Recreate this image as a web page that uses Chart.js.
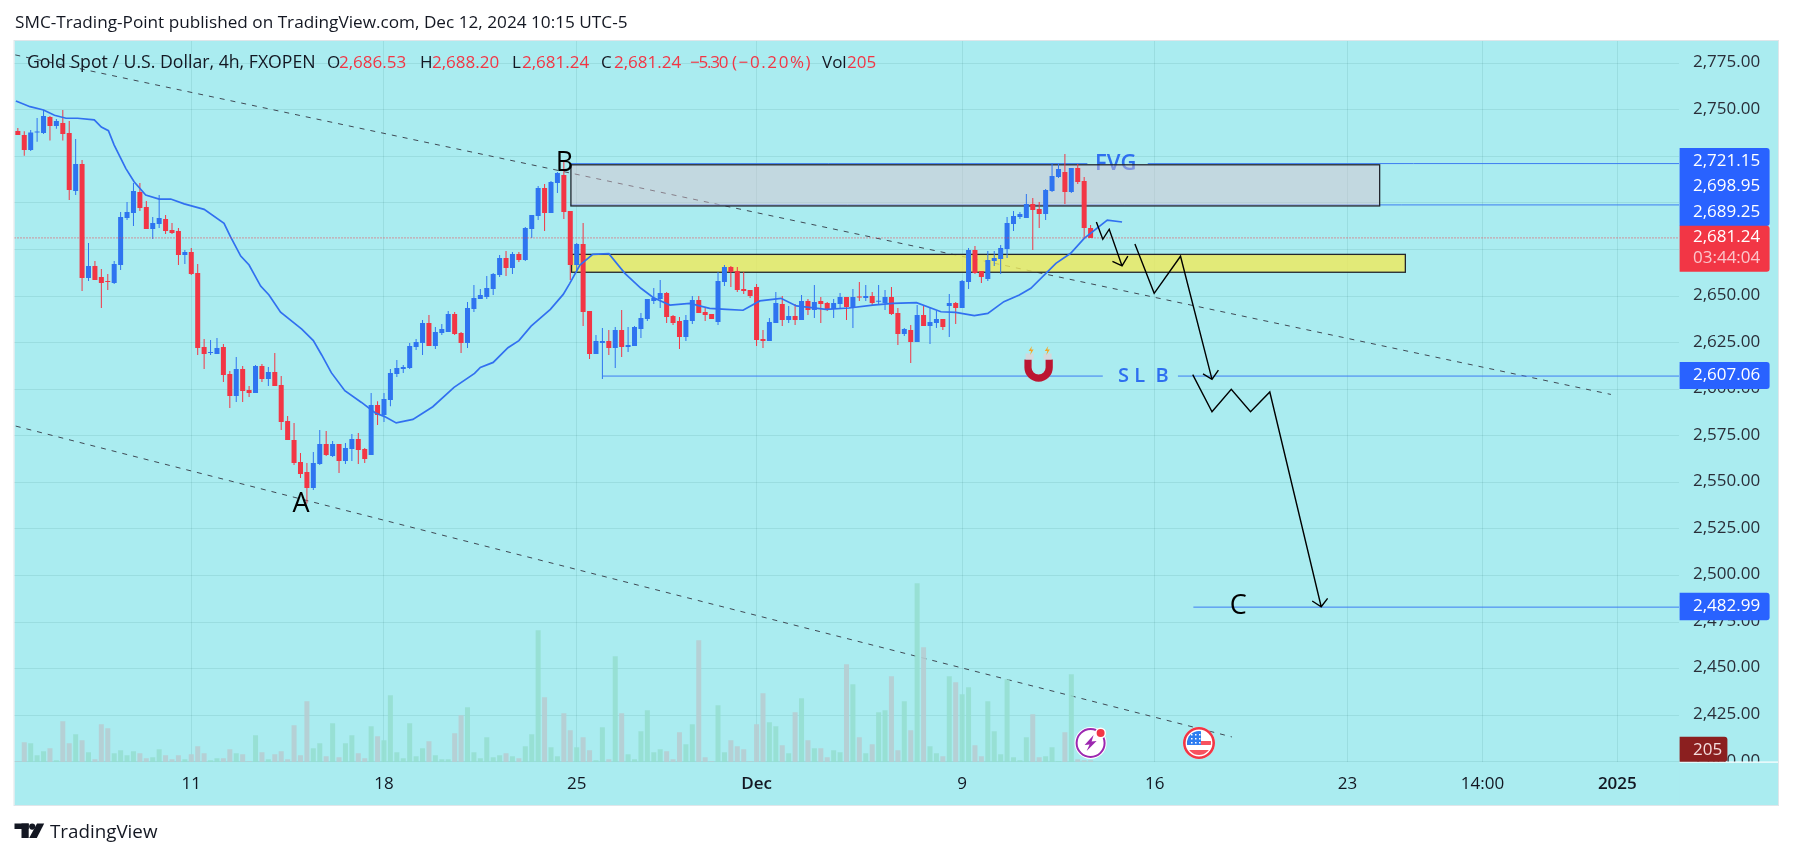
<!DOCTYPE html>
<html><head><meta charset="utf-8">
<script src="https://cdn.jsdelivr.net/npm/chart.js@4"></script>
<style>html,body{margin:0;padding:0;background:#fff}canvas{display:block}</style>
</head><body><canvas id="c" width="1793" height="858"></canvas>
<script>
// ---- candles, in bar order (bar number = position + 1) ----
const opens=[2738.7,2736.5,2728.5,2737.8,2737.6,2746.2,2741.3,2742.9,2737.6,2706.4,2720.9,2659.7,2666.2,2660.2,2657.9,2657.0,2666.7,2691.9,2694.6,2705.9,2697.8,2686.0,2688.7,2691.4,2685.5,2684.9,2672.1,2673.7,2662.4,2622.7,2619.4,2618.9,2622.7,2608.2,2596.3,2610.8,2599.6,2598.0,2612.4,2605.5,2609.2,2602.2,2582.9,2572.7,2560.9,
2555.5,2547.0,2559.8,2570.6,2564.1,2570.6,2561.4,2567.9,2573.3,2567.9,2564.7,2591.5,2586.1,2594.2,2608.2,2610.8,2611.4,2622.7,2624.8,2635.6,2623.2,2630.2,2630.7,2640.4,2630.2,2624.8,2643.1,2648.5,2649.5,2653.8,2661.3,2670.5,2665.1,2672.6,2669.4,2686.0,2693.0,2708.0,2694.6,2710.7,2715.0,2695.7,2666.7,2678.0,
2642.0,2618.9,2624.8,2625.9,2622.1,2631.8,2622.7,2623.2,2632.3,2637.7,2647.4,2648.4,2651.7,2639.3,2636.6,2628.0,2636.6,2647.9,2641.5,2640.4,2636.1,2657.6,2665.6,2663.5,2653.8,2653.3,2654.9,2627.0,2625.9,2635.6,2645.8,2637.2,2639.3,2637.2,2647.4,2642.5,2647.4,2646.3,2643.1,2645.8,
2649.5,2644.1,2649.5,2649.0,2650.0,2647.0,2646.3,2649.5,2640.9,2629.6,2631.8,2625.3,2639.8,2633.9,2635.6,2637.7,2644.7,2646.3,2643.6,2657.6,2674.7,2663.5,2659.2,2668.8,2669.9,2675.3,2688.7,2692.5,2691.9,2699.4,2696.8,2694.1,2706.4,2713.9,2716.6,2705.9,2718.8,2711.8,2686.53];
const highs=[2740.3,2738.5,2739.2,2745.6,2749.9,2746.7,2745.1,2749.9,2744.0,2734.4,2723.1,2678.5,2668.8,2664.5,2661.9,2668.8,2695.2,2700.5,2710.7,2710.7,2701.1,2692.5,2704.3,2693.5,2689.2,2686.6,2674.8,2675.8,2667.2,2627.0,2626.4,2627.5,2624.3,2609.8,2617.3,2612.4,2601.7,2613.0,2613.5,2611.9,2619.4,2607.1,2585.6,2581.8,2565.7,
2560.4,2566.3,2578.1,2577.6,2572.2,2570.6,2571.1,2575.9,2576.5,2568.4,2598.0,2593.6,2598.0,2610.8,2615.7,2613.0,2624.8,2627.0,2637.2,2639.8,2633.4,2635.0,2642.0,2641.5,2630.7,2646.8,2656.0,2653.8,2660.8,2662.4,2672.1,2674.2,2673.7,2673.7,2687.1,2693.5,2709.1,2710.2,2711.8,2716.6,2722.0,2695.7,2678.5,2689.2,
2642.0,2629.1,2632.9,2631.8,2633.4,2642.5,2633.4,2633.9,2640.9,2648.4,2654.3,2658.6,2652.2,2639.8,2638.8,2639.8,2650.0,2650.0,2643.6,2640.4,2662.9,2666.7,2666.2,2665.6,2662.9,2653.3,2656.5,2631.8,2638.2,2652.2,2650.0,2644.7,2645.8,2650.6,2648.4,2655.9,2649.5,2646.8,2648.4,2651.7,
2649.5,2653.8,2657.6,2655.9,2652.2,2655.9,2653.3,2654.9,2643.6,2632.9,2634.5,2645.2,2645.2,2644.1,2642.0,2637.7,2651.1,2646.8,2658.6,2675.8,2676.9,2663.5,2674.2,2674.2,2677.4,2692.5,2695.7,2695.2,2704.8,2702.7,2700.5,2707.5,2721.5,2720.9,2726.3,2718.8,2720.9,2714.0,2688.20];
const lows=[2736.5,2725.4,2727.9,2732.9,2737.0,2733.5,2739.9,2733.5,2701.6,2704.3,2652.7,2658.1,2658.6,2643.6,2653.3,2656.5,2664.0,2690.9,2687.6,2695.7,2686.0,2680.7,2686.6,2683.3,2683.3,2666.7,2667.2,2661.3,2618.4,2610.8,2618.4,2618.9,2603.9,2589.9,2593.1,2593.1,2595.8,2598.0,2603.9,2601.7,2601.7,2578.1,2572.7,2559.3,2552.3,
2538.7,2545.9,2559.3,2564.1,2563.6,2555.0,2559.8,2561.4,2559.8,2560.4,2564.7,2580.8,2582.4,2590.9,2606.5,2608.7,2610.8,2621.1,2618.4,2623.2,2621.6,2629.1,2630.7,2629.1,2619.5,2622.1,2641.5,2648.5,2648.5,2650.6,2660.2,2660.8,2661.9,2668.3,2668.8,2681.2,2690.9,2684.9,2694.6,2705.4,2691.4,2658.6,2664.0,2633.9,
2616.2,2618.9,2605.5,2618.4,2611.4,2617.3,2620.0,2623.2,2627.5,2636.6,2645.8,2643.6,2635.6,2634.5,2621.6,2625.9,2635.0,2640.9,2636.6,2637.7,2634.5,2655.4,2654.9,2652.2,2651.1,2649.0,2623.2,2622.1,2625.9,2635.6,2633.9,2635.6,2634.5,2637.2,2639.8,2638.2,2635.6,2642.0,2638.2,2643.6,
2637.2,2632.9,2647.4,2647.4,2645.2,2645.2,2642.5,2639.8,2623.7,2628.6,2614.1,2625.3,2633.9,2624.3,2632.9,2631.8,2628.0,2635.0,2643.6,2653.8,2661.8,2657.0,2658.1,2666.2,2661.8,2670.5,2684.9,2691.4,2691.9,2674.7,2686.6,2690.9,2705.9,2713.4,2699.4,2705.4,2710.2,2681.2,2681.24];
const closes=[2736.5,2728.5,2737.9,2738.1,2746.7,2741.3,2744.0,2737.0,2707.0,2720.9,2659.7,2666.2,2658.6,2657.0,2657.6,2667.2,2692.5,2695.2,2706.4,2697.3,2686.0,2689.2,2691.9,2684.9,2683.9,2672.1,2673.7,2661.9,2622.1,2618.9,2619.8,2622.1,2607.6,2596.3,2610.8,2599.0,2598.0,2612.4,2605.5,2609.2,2601.7,2582.4,2572.7,2560.4,2554.5,
2547.0,2560.4,2570.6,2564.7,2570.6,2561.4,2568.4,2573.3,2567.4,2562.5,2591.5,2586.1,2594.7,2608.7,2611.4,2611.9,2623.2,2625.4,2635.6,2623.2,2630.7,2632.3,2640.4,2629.6,2624.8,2643.6,2649.0,2650.6,2654.4,2661.9,2670.5,2665.1,2672.6,2669.4,2686.6,2693.5,2708.0,2694.6,2711.3,2716.1,2695.2,2666.7,2678.0,2641.5,
2618.9,2625.9,2625.9,2622.1,2631.8,2622.7,2623.7,2633.4,2638.2,2648.4,2649.0,2651.7,2638.8,2635.6,2628.0,2637.2,2647.9,2640.9,2639.8,2637.7,2658.1,2665.6,2662.9,2653.3,2652.7,2650.0,2626.4,2625.9,2636.1,2646.3,2637.2,2639.3,2637.2,2647.4,2642.5,2646.8,2645.8,2643.1,2646.3,2649.5,
2644.1,2649.5,2649.2,2650.0,2646.3,2647.4,2649.5,2640.4,2629.6,2632.3,2625.3,2639.8,2633.9,2636.1,2637.7,2633.4,2646.3,2643.6,2658.1,2674.7,2662.4,2660.3,2669.4,2670.5,2675.8,2689.2,2693.0,2694.1,2699.4,2696.2,2694.1,2707.0,2714.5,2718.2,2705.9,2718.8,2711.3,2686.6,2681.24];
const volumes=[80,2360,2240,800,1280,1640,200,4880,2240,3320,2600,1160,320,4520,4040,1040,1400,800,1280,1040,440,560,1520,800,320,800,320,920,1880,1040,200,440,440,1520,1040,920,80,3200,1160,320,920,1280,320,4400,800,7280,1640,2240,680,4640,560,2240,3200,1040,440,4280,3080,2600,8000,1160,440,4640,680,1640,2480,800,320,320,3440,5600,6560,1160,440,2960,560,800,1040,680,440,1880,3320,15800,7760,1760,680,5840,3800,1760,2960,1400,200,4160,320,12680,5840,920,320,3680,6200,1160,1520,1280,320,3560,2120,4520,14600,560,80,6800,1160,2600,1880,1520,80,4520,8240,4760,4280,2000,1040,5960,7640,2600,1640,1640,560,1400,1160,11720,9320,2960,1040,2120,5960,6200,10280,1400,7280,3800,21440,13760,1880,1040,680,10280,9560,8120,8960,2000,680,7280,3680,920,9920,560,200,2960,5720,560,680,1760,80,3560,10520,320,200,205];
// ---- moving average vertices (bar position, price) ----
const maBars=[0.7,2.9,5.0,6.7,8.5,10.3,12.9,14.0,15.1,16.0,17.8,19.1,20.9,23.0,24.8,26.9,30.0,33.1,34.1,35.7,37.0,38.8,40.1,41.9,45.2,47.0,48.3,49.8,51.9,54.5,56.6,58.1,59.9,62.5,65.6,68.9,72.1,73.0,75.0,77.3,79.0,80.9,83.9,85.9,86.9,88.5,90.5,93.0,95.5,98.0,99.9,102.5,105.6,108.7,111.3,113.9,116.5,119.8,122.2,126.8,130.4,134.1,137.2,140.9,144.7,147.0,149.9,152.0,154.5,156.9,158.7,162.6,164.9,167.0,170.6,172.9];
const maValues=[2754.8,2751.7,2749.9,2747.1,2745.5,2745.5,2744.6,2740.8,2738.8,2731.1,2718.6,2711.4,2704.3,2702.1,2702.1,2699.5,2696.6,2689.1,2681.9,2671.5,2666.7,2655.4,2650.6,2641.4,2632.3,2626.1,2618.4,2608.9,2599.2,2592.9,2587.4,2585.3,2581.9,2583.8,2590.6,2601.0,2608.5,2611.7,2614.4,2622.3,2626.1,2633.9,2642.9,2650.9,2656.7,2666.7,2672.4,2672.8,2662.2,2654.2,2649.3,2645.2,2646.1,2643.4,2642.9,2642.4,2647.4,2648.8,2644.7,2642.9,2643.6,2645.2,2646.1,2646.5,2641.6,2641.3,2639.5,2640.7,2647.0,2650.6,2654.2,2667.6,2673.0,2681.0,2690.8,2689.8];
// ---- axes ----
const priceTicks=[2775,2750,2725,2700,2675,2650,2625,2600,2575,2550,2525,2500,2475,2450,2425,2400];
const timeBars=[28,58,88,116,148,178,208,229,250];
const timeLabels=['11','18','25','Dec','9','16','23','14:00','2025'];
const viewBars=[0.48,259.6];
const viewPrice=[2399.84,2786.97];
// ---- drawings ----
const upperTrendBars=[0.6,249.0],upperTrendPrices=[2779.5,2597.2];
const lowerTrendBars=[0.67,190.0],lowerTrendPrices=[2580.2,2413.3];
const lastPrice=2681.24;
const level1Bars=[87,167.5,null,176.9,259.6],level1Prices=[2721.15,2721.15,null,2721.15,2721.15];
const level2Bars=[87,259.6],level2Prices=[2698.95,2698.95];
const slBars=[92,169.9,null,181.6,259.6],slPrices=[2607.06,2607.06,null,2607.06,2607.06];
const targetBars=[184,259.6],targetPrices=[2482.99,2482.99];
const fvgBoxBars=[87.1,213.0],fvgBoxPrices=[2720.5,2698.4];
const yellowBoxBars=[87.2,217.0],yellowBoxPrices=[2672.4,2662.8];
const pathBars=[168.9,169.9,170.9,172.9,null,171.4,172.9,173.8,null,174.9,177.9,182.0,186.9,null,185.5,186.9,187.9,null,183.9,186.9,189.9,192.9,195.9,203.9,null,202.5,203.9,204.9];
const pathPrices=[2689.8,2680.5,2685.9,2666.2,null,2668.7,2666.2,2671.5,null,2678.0,2651.5,2671.4,2605.3,null,2608.2,2605.3,2610.3,null,2607.8,2587.9,2600.0,2587.9,2598.5,2483.2,null,2486.3,2483.2,2487.7];
const waveLabels=['A','B','C'],waveBars=[45.1,86.1,191],wavePrices=[2538.0,2721.3,2483.6];
const fvgText={t:'FVG',bar:171.9,price:2721.15},slText={t:'S L  B',bar:176.2,price:2607.06};
const headline='SMC-Trading-Point published on TradingView.com, Dec 12, 2024 10:15 UTC-5';
const legendName='Gold Spot / U.S. Dollar, 4h, FXOPEN';

const BG='#aaecf0',UP='#2e74f0',DOWN='#f23645',LEVEL='#3d7df2',INK='#131722',FONT='"Open Sans"';
const barNo=opens.map((_,i)=>i+1);
const colors=opens.map((o,i)=>closes[i]>=o?UP:DOWN);
const zip=(xs,ys)=>xs.map((x,i)=>({x:x,y:ys[i]}));
const line=(label,xs,ys,color,width,order,extra)=>Object.assign({type:'line',label,data:zip(xs,ys),borderColor:color,borderWidth:width,pointRadius:0,tension:0,spanGaps:false,order,yAxisID:'y'},extra||{});

const artwork={
 id:'artwork',
 beforeDraw(ch){const c=ch.ctx;c.save();c.fillStyle='#fff';c.fillRect(0,0,1793,858);c.fillStyle=BG;c.fillRect(14.5,41,1763.5,764);c.strokeStyle='#dfe6ea';c.lineWidth=1;c.strokeRect(14,40.5,1764.5,765);c.restore();},
 beforeDatasetDraw(ch,args){
  if(ch.data.datasets[args.index].label!=='Volume')return;
  const c=ch.ctx,X=ch.scales.x,Y=ch.scales.y;c.save();
  c.textAlign='center';c.textBaseline='middle';c.fillStyle='#2e6ff0';
  c.font='600 22px '+FONT;c.fillText(fvgText.t,X.getPixelForValue(fvgText.bar),Y.getPixelForValue(fvgText.price));
  c.font='600 20px '+FONT;c.fillText(slText.t,X.getPixelForValue(slText.bar),Y.getPixelForValue(slText.price));
  const box=(bx,py,fill)=>{const x0=X.getPixelForValue(bx[0]),x1=X.getPixelForValue(bx[1]),y0=Y.getPixelForValue(py[0]),y1=Y.getPixelForValue(py[1]);
   c.fillStyle=fill;c.fillRect(x0,y0,x1-x0,y1-y0);c.strokeStyle='#23262e';c.lineWidth=1.3;c.strokeRect(x0,y0,x1-x0,y1-y0);};
  box(fvgBoxBars,fvgBoxPrices,'rgba(225,194,204,.45)');
  box(yellowBoxBars,yellowBoxPrices,'rgba(240,234,90,.8)');
  c.restore();
 },
 afterDatasetsDraw(ch){
  const c=ch.ctx,X=ch.scales.x,Y=ch.scales.y;c.save();
  c.fillStyle='#000';c.font='27px '+FONT;c.textAlign='center';c.textBaseline='middle';
  waveLabels.forEach((t,i)=>c.fillText(t,X.getPixelForValue(waveBars[i]),Y.getPixelForValue(wavePrices[i])));
  magnet(c,1038.6,367.5);
  bolt(c,1090.6,743);
  flag(c,1199,743);
  c.restore();
 },
 afterDraw(ch){
  const c=ch.ctx;c.save();
  c.fillStyle=BG;c.fillRect(1679.6,762,98.4,43);
  c.fillStyle='#fff';c.fillRect(1679.6,761.5,98.4,1.2);
  const rr=(x,y,w,h,col)=>{c.fillStyle=col;c.beginPath();c.roundRect(x,y,w,h,[0,3,3,0]);c.fill();};
  c.textBaseline='middle';c.textAlign='left';c.font='17px '+FONT;
  rr(1679.6,148,90,78,'#2962ff');
  rr(1679.6,225.7,90,46,DOWN);
  rr(1679.6,362,90,27,'#2962ff');
  rr(1679.6,592.7,90,27.5,'#2962ff');
  rr(1679.6,736.7,47.8,25,'#8b1f1f');
  c.fillStyle='#fff';
  [['2,721.15',161],['2,698.95',185.7],['2,689.25',211.7],['2,681.24',236.7],['2,607.06',375],['2,482.99',606]].forEach(p=>c.fillText(p[0],1693,p[1]));
  c.fillStyle='#fbc6cb';c.fillText('03:44:04',1693,258);
  c.fillStyle='#f3dcdc';c.fillText('205',1693,750);
  c.fillStyle=INK;c.font='17.2px '+FONT;c.fillText(headline,15,23);
  const seg=(t,x,col)=>{c.fillStyle=col;c.fillText(t,x,63);};
  c.font='17.7px '+FONT;seg(legendName,27,INK);
  c.font='17px '+FONT;
  seg('O',327,INK);seg('2,686.53',339,DOWN);
  seg('H',420,INK);seg('2,688.20',432,DOWN);
  seg('L',512,INK);seg('2,681.24',522,DOWN);
  seg('C',601,INK);seg('2,681.24',614,DOWN);
  c.letterSpacing='-1.2px';seg('\u22125.30',690,DOWN);
  c.letterSpacing='1.6px';seg('(\u22120.20%)',732,DOWN);
  c.letterSpacing='0px';
  seg('Vol',822,INK);seg('205',847,DOWN);
  c.fillStyle=INK;
  c.fillRect(14.5,823.5,14.2,5.5);c.fillRect(21.5,823.5,7.2,14.5);
  c.beginPath();c.arc(32.2,826.6,3.1,0,Math.PI*2);c.fill();
  c.beginPath();c.moveTo(37,823.5);c.lineTo(44.2,823.5);c.lineTo(36.8,838);c.lineTo(29.2,838);c.fill();
  c.font='18.8px '+FONT;c.fillText('TradingView',50,832.5);
  c.restore();
 }
};
function magnet(c,x,y){
 c.fillStyle='#bc1632';c.beginPath();c.arc(x,y,14.2,0,Math.PI);c.lineTo(x-14.2,y-8);c.lineTo(x-7,y-8);c.lineTo(x-7,y);c.arc(x,y,7,Math.PI,0,true);c.lineTo(x+7,y-8);c.lineTo(x+14.2,y-8);c.closePath();c.fill();
 c.fillStyle='#d3d8dc';c.fillRect(x-13,y-14,8,6);c.fillRect(x+5,y-14,8,6);
 c.fillStyle='#f6a623';[[x-7.5],[x+8.7]].forEach(p=>{const a=p[0],b=y-17;c.beginPath();c.moveTo(a+1,b-4.5);c.lineTo(a-2.5,b+.5);c.lineTo(a,b+.5);c.lineTo(a-1,b+4.5);c.lineTo(a+2.5,b-1);c.lineTo(a,b-1);c.closePath();c.fill();});
}
function bolt(c,x,y){
 c.fillStyle='#fff';c.beginPath();c.arc(x,y,16,0,Math.PI*2);c.fill();
 c.strokeStyle='#9c27b0';c.lineWidth=2;c.beginPath();c.arc(x,y,14,0,Math.PI*2);c.stroke();
 c.fillStyle='#9c27b0';c.beginPath();c.moveTo(x+3,y-8);c.lineTo(x-6,y+2);c.lineTo(x-1,y+1.5);c.lineTo(x-4,y+8);c.lineTo(x+6,y-2);c.lineTo(x+1,y-1.5);c.closePath();c.fill();
 c.fillStyle='#fff';c.beginPath();c.arc(x+10,y-10,5.5,0,Math.PI*2);c.fill();
 c.fillStyle=DOWN;c.beginPath();c.arc(x+10,y-10,4,0,Math.PI*2);c.fill();
}
function flag(c,x,y){
 c.fillStyle='#fff';c.beginPath();c.arc(x,y,16,0,Math.PI*2);c.fill();
 c.strokeStyle=DOWN;c.lineWidth=2.6;c.beginPath();c.arc(x,y,14.7,0,Math.PI*2);c.stroke();
 c.save();c.beginPath();c.arc(x,y,12,0,Math.PI*2);c.clip();
 c.fillStyle='#f7525f';c.fillRect(x-12,y-2,24,4);c.fillRect(x-12,y+7,24,6);
 c.fillStyle='#2e7df0';c.fillRect(x-12,y-12,14,14);
 c.fillStyle='#fff';for(let i=0;i<3;i++)for(let j=0;j<3;j++){c.fillRect(x-8+i*4,y-9+j*4,1.5,1.5);}
 c.restore();
}

new Chart(document.getElementById('c'),{
 type:'bar',
 plugins:[artwork],
 data:{datasets:[
  line('Upper trend',upperTrendBars,upperTrendPrices,'#3f4954',1,12,{borderDash:[5,6]}),
  line('Lower trend',lowerTrendBars,lowerTrendPrices,'#3f4954',1,12,{borderDash:[5,6]}),
  line('Level 2,721.15',level1Bars,level1Prices,LEVEL,1,11),
  line('Level 2,698.95',level2Bars,level2Prices,LEVEL,1,11),
  {type:'bar',label:'Volume',yAxisID:'yV',order:9,grouped:false,barThickness:5,inflateAmount:0,
   data:zip(barNo,volumes),backgroundColor:colors.map(c=>c===UP?'rgba(148,222,207,.85)':'rgba(182,205,209,.9)')},
  {type:'bar',label:'Wicks',yAxisID:'y',order:7,grouped:false,barThickness:1,inflateAmount:0,
   data:barNo.map((b,i)=>({x:b,y:[lows[i],highs[i]]})),backgroundColor:colors},
  {type:'bar',label:'Bodies',yAxisID:'y',order:6,grouped:false,barThickness:5,inflateAmount:0,minBarLength:1,
   data:barNo.map((b,i)=>({x:b,y:[opens[i],closes[i]]})),backgroundColor:colors},
  line('Moving average',maBars,maValues,'#3170f0',1.7,5),
  line('Last price',viewBars,[lastPrice,lastPrice],DOWN,1,4,{borderDash:[1,2]}),
  line('SL level',slBars,slPrices,LEVEL,1,4),
  line('Target level',targetBars,targetPrices,LEVEL,1,4),
  line('Projected path',pathBars,pathPrices,'#000',1.4,3)
 ]},
 options:{
  responsive:false,animation:false,devicePixelRatio:1,events:[],
  layout:{padding:{left:14.5,top:41,right:15,bottom:53}},
  plugins:{legend:{display:false},tooltip:{enabled:false},title:{display:false}},
  scales:{
   x:{type:'linear',offset:false,min:viewBars[0],max:viewBars[1],
    afterBuildTicks(s){s.ticks=timeBars.map(v=>({value:v}));},
    afterFit(s){s.height=43;},
    grid:{offset:false,color:'rgba(20,90,90,.10)',drawTicks:false},border:{display:false},
    ticks:{autoSkip:false,maxRotation:0,padding:12,color:INK,includeBounds:false,
     font:ctx=>({family:FONT,size:17,weight:(ctx.index===3||ctx.index===8)?'600':'400'}),
     callback:(v,i)=>timeLabels[i]}},
   y:{type:'linear',position:'right',min:viewPrice[0],max:viewPrice[1],
    afterBuildTicks(s){s.ticks=priceTicks.map(v=>({value:v}));},
    afterFit(s){s.width=99;},
    grid:{color:'rgba(20,90,90,.10)',drawTicks:false},border:{display:false},
    ticks:{autoSkip:false,padding:14,labelOffset:-1,crossAlign:'near',color:'#2a2e39',font:{family:FONT,size:17},
     callback:v=>v.toLocaleString('en-US',{minimumFractionDigits:2,maximumFractionDigits:2})}},
   yV:{type:'linear',display:false,position:'right',min:0,max:86484,grid:{display:false}}
  }
 }
});
</script></body></html>
